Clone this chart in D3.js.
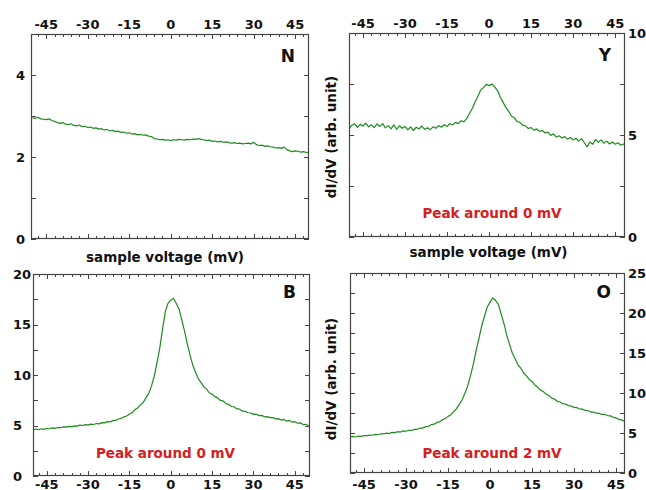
<!DOCTYPE html>
<html>
<head>
<meta charset="utf-8">
<script src="https://cdn.jsdelivr.net/npm/d3@7"></script>
<style>
  body { margin: 0; background: #fff; }
  svg { display: block; }
  text { font-family: "DejaVu Sans", sans-serif; font-weight: bold; fill: #111; }
</style>
</head>
<body>
<svg id="chart" width="646" height="490"></svg>
<script>
// sample voltage grid, mV (one point per mV)
const voltage = d3.range(-50, 51, 1)

// dI/dV
const seriesN = [2.96, 2.94, 2.97, 2.93, 2.92, 2.91, 2.93, 2.89, 2.87, 2.84,
  2.82, 2.84, 2.80, 2.79, 2.81, 2.77, 2.76, 2.78, 2.74, 2.75,
  2.72, 2.73, 2.70, 2.71, 2.68, 2.69, 2.66, 2.67, 2.64, 2.65,
  2.62, 2.63, 2.60, 2.61, 2.58, 2.59, 2.56, 2.57, 2.54, 2.55,
  2.53, 2.54, 2.51, 2.50, 2.45, 2.44, 2.42, 2.43, 2.41, 2.42,
  2.40, 2.42, 2.41, 2.43, 2.42, 2.41, 2.43, 2.42, 2.44, 2.43,
  2.45, 2.43, 2.42, 2.40, 2.41, 2.38, 2.39, 2.37, 2.38, 2.36,
  2.37, 2.35, 2.34, 2.35, 2.33, 2.34, 2.32, 2.33, 2.34, 2.32,
  2.36, 2.30, 2.28, 2.29, 2.26, 2.27, 2.25, 2.24, 2.22, 2.23,
  2.21, 2.24, 2.18, 2.15, 2.13, 2.15, 2.14, 2.12, 2.13, 2.11, 2.12]

const seriesY = [5.30, 5.48, 5.55, 5.38, 5.52, 5.44, 5.58, 5.40, 5.50, 5.36,
  5.54, 5.42, 5.56, 5.35, 5.46, 5.30, 5.50, 5.28, 5.45, 5.33,
  5.42, 5.25, 5.40, 5.22, 5.38, 5.30, 5.44, 5.28, 5.35, 5.26,
  5.40, 5.33, 5.46, 5.38, 5.50, 5.42, 5.55, 5.50, 5.62, 5.56,
  5.70, 5.64, 5.80, 6.05, 6.30, 6.62, 6.90, 7.20, 7.32, 7.48,
  7.42, 7.50, 7.36, 7.18, 6.85, 6.60, 6.35, 6.15, 5.92, 5.85,
  5.66, 5.62, 5.48, 5.45, 5.32, 5.36, 5.24, 5.30, 5.18, 5.22,
  5.10, 5.14, 4.98, 5.05, 4.90, 4.96, 4.85, 4.92, 4.80, 4.88,
  4.76, 4.84, 4.70, 4.82, 4.62, 4.42, 4.66, 4.55, 4.78, 4.64,
  4.76, 4.60, 4.70, 4.56, 4.66, 4.55, 4.62, 4.50, 4.56, 4.48, 4.52]

const seriesB = [4.55, 4.66, 4.58, 4.68, 4.62, 4.70, 4.68, 4.76, 4.72, 4.80,
  4.78, 4.86, 4.84, 4.92, 4.86, 4.96, 4.94, 5.04, 5.00, 5.08,
  5.04, 5.14, 5.10, 5.20, 5.16, 5.28, 5.26, 5.38, 5.36, 5.48,
  5.50, 5.64, 5.70, 5.86, 5.94, 6.14, 6.28, 6.58, 6.74, 7.04,
  7.28, 7.76, 8.18, 8.92, 9.88, 11.22, 12.68, 14.52, 16.28, 17.12,
  17.42, 17.58, 17.08, 16.52, 15.46, 14.32, 13.06, 11.94, 10.96, 10.24,
  9.62, 9.24, 8.82, 8.60, 8.22, 8.10, 7.86, 7.74, 7.48, 7.42,
  7.16, 7.10, 6.88, 6.84, 6.64, 6.62, 6.42, 6.40, 6.26, 6.24,
  6.10, 6.12, 5.98, 6.00, 5.86, 5.88, 5.78, 5.78, 5.66, 5.68,
  5.54, 5.60, 5.44, 5.50, 5.34, 5.38, 5.22, 5.26, 5.10, 5.12, 4.98]

const seriesO = [4.50, 4.58, 4.50, 4.62, 4.58, 4.68, 4.68, 4.74, 4.72, 4.82,
  4.78, 4.90, 4.88, 4.98, 4.94, 5.08, 5.04, 5.16, 5.12, 5.26,
  5.22, 5.34, 5.32, 5.46, 5.46, 5.62, 5.62, 5.80, 5.84, 6.04,
  6.10, 6.32, 6.40, 6.66, 6.80, 7.08, 7.26, 7.66, 8.02, 8.58,
  9.12, 9.94, 10.86, 12.14, 13.56, 15.24, 16.76, 18.34, 19.56, 20.74,
  21.36, 21.88, 21.56, 21.04, 19.86, 18.64, 17.16, 16.04, 14.96, 14.24,
  13.50, 13.10, 12.50, 12.14, 11.70, 11.44, 11.00, 10.74, 10.36, 10.18,
  9.86, 9.68, 9.36, 9.24, 8.96, 8.88, 8.66, 8.62, 8.42, 8.38,
  8.20, 8.18, 8.00, 7.98, 7.82, 7.78, 7.62, 7.62, 7.46, 7.46,
  7.32, 7.32, 7.18, 7.14, 6.96, 6.90, 6.70, 6.64, 6.46, 6.44, 6.30]

const xTickLabels = [-45, -30, -15, 0, 15, 30, 45]
const xMinorTicks = d3.range(-48, 49, 3)

const svg = d3.select('#chart')
const green = '#1f8a1f'
const frameColor = '#444'

function panel (o) {
  let x = d3.scaleLinear().domain(o.xDomain).range([o.left, o.right])
  let y = d3.scaleLinear().domain(o.yDomain).range([o.bottom, o.top])
  let g = svg.append('g')

  let clipId = 'clip' + o.name
  svg.append('clipPath').attr('id', clipId)
    .append('rect')
      .attr('x', o.left).attr('y', o.top)
      .attr('width', o.right - o.left).attr('height', o.bottom - o.top)

  // curve
  let line = d3.line()
      .x((d, i) => x(voltage[i]))
      .y(d => y(d))
  g.append('path')
      .datum(o.values)
      .attr('clip-path', 'url(#' + clipId + ')')
      .attr('fill', 'none')
      .attr('stroke', green)
      .attr('stroke-width', 1.2)
      .attr('stroke-linejoin', 'round')
      .attr('d', line)

  // inward ticks on all four sides
  let ticks = g.append('g').attr('stroke', frameColor).attr('stroke-width', 1)
  xMinorTicks.forEach(v => {
    let len = xTickLabels.includes(v) ? 5 : 3
    let px = Math.round(x(v)) + 0.5
    ticks.append('line').attr('x1', px).attr('x2', px).attr('y1', o.top).attr('y2', o.top + len)
    ticks.append('line').attr('x1', px).attr('x2', px).attr('y1', o.bottom).attr('y2', o.bottom - len)
  })
  o.yTicks.forEach(v => {
    let py = Math.round(y(v)) + 0.5
    ticks.append('line').attr('x1', o.left).attr('x2', o.left + 5).attr('y1', py).attr('y2', py)
    ticks.append('line').attr('x1', o.right).attr('x2', o.right - 5).attr('y1', py).attr('y2', py)
  })

  g.append('rect')
      .attr('x', o.left + 0.5).attr('y', o.top + 0.5)
      .attr('width', o.right - o.left - 1).attr('height', o.bottom - o.top - 1)
      .attr('fill', 'none')
      .attr('stroke', frameColor)
      .attr('stroke-width', 1.2)

  // x tick labels, above or below the frame (bottom row kept just inside the page)
  g.selectAll('.xl')
    .data(xTickLabels)
    .enter().append('text')
      .attr('x', d => x(d))
      .attr('y', o.xLabelsTop ? o.top - 5 : 488.5)
      .attr('text-anchor', 'middle')
      .style('font-size', '13px')
      .text(d => d)

  // y tick labels, on the left or the right
  g.selectAll('.yl')
    .data(o.yLabels)
    .enter().append('text')
      .attr('x', d => o.yLabelsRight ? o.right + 3 : o.yLabelX)
      .attr('y', d => y(d))
      .attr('dy', '0.36em')
      .attr('text-anchor', 'start')
      .style('font-size', '13px')
      .text(d => d)

  g.append('text')
      .attr('x', o.right - 14)
      .attr('y', o.top + o.tagDy)
      .attr('text-anchor', 'end')
      .style('font-size', '17px')
      .text(o.name)

  if (o.note) {
    g.append('text')
        .attr('x', o.noteX).attr('y', o.noteY)
        .attr('text-anchor', 'middle')
        .style('font-size', '13.5px')
        .style('fill', '#d42020')
        .text(o.note)
  }
  if (o.xTitleY) {
    g.append('text')
        .attr('x', o.xTitleX).attr('y', o.xTitleY)
        .attr('text-anchor', 'middle')
        .style('font-size', '13.5px')
        .text('sample voltage (mV)')
  }
  if (o.yTitleY) {
    g.append('text')
        .attr('transform', 'translate(336,' + o.yTitleY + ') rotate(-90)')
        .attr('text-anchor', 'middle')
        .style('font-size', '13.5px')
        .text('dI/dV (arb. unit)')
  }
}

panel({name: 'N', values: seriesN, left: 31, right: 309, top: 34, bottom: 239,
  xDomain: [-50.5, 50], yDomain: [0, 5], yTicks: [0, 1, 2, 3, 4, 5], yLabels: [0, 2, 4],
  yLabelX: 16, xLabelsTop: true, tagDy: 28, xTitleX: 165, xTitleY: 262})

panel({name: 'Y', values: seriesY, left: 349, right: 625, top: 33, bottom: 237,
  xDomain: [-50, 48.5], yDomain: [0, 10], yTicks: [0, 2.5, 5, 7.5, 10], yLabels: [0, 5, 10],
  yLabelsRight: true, xLabelsTop: true, tagDy: 28,
  note: 'Peak around 0 mV', noteX: 492, noteY: 218, xTitleX: 488.5, xTitleY: 257, yTitleY: 137})

panel({name: 'B', values: seriesB, left: 33, right: 310, top: 274, bottom: 476,
  xDomain: [-50, 50.5], yDomain: [0, 20], yTicks: d3.range(0, 20.1, 2.5), yLabels: [0, 5, 10, 15, 20],
  yLabelX: 13, tagDy: 24, note: 'Peak around 0 mV', noteX: 165.5, noteY: 458})

panel({name: 'O', values: seriesO, left: 350, right: 625, top: 273, bottom: 473,
  xDomain: [-50, 48.2], yDomain: [0, 25], yTicks: d3.range(0, 25.1, 2.5), yLabels: [0, 5, 10, 15, 20, 25],
  yLabelsRight: true, tagDy: 25, note: 'Peak around 2 mV', noteX: 492, noteY: 458, yTitleY: 379})
</script>
</body>
</html>
